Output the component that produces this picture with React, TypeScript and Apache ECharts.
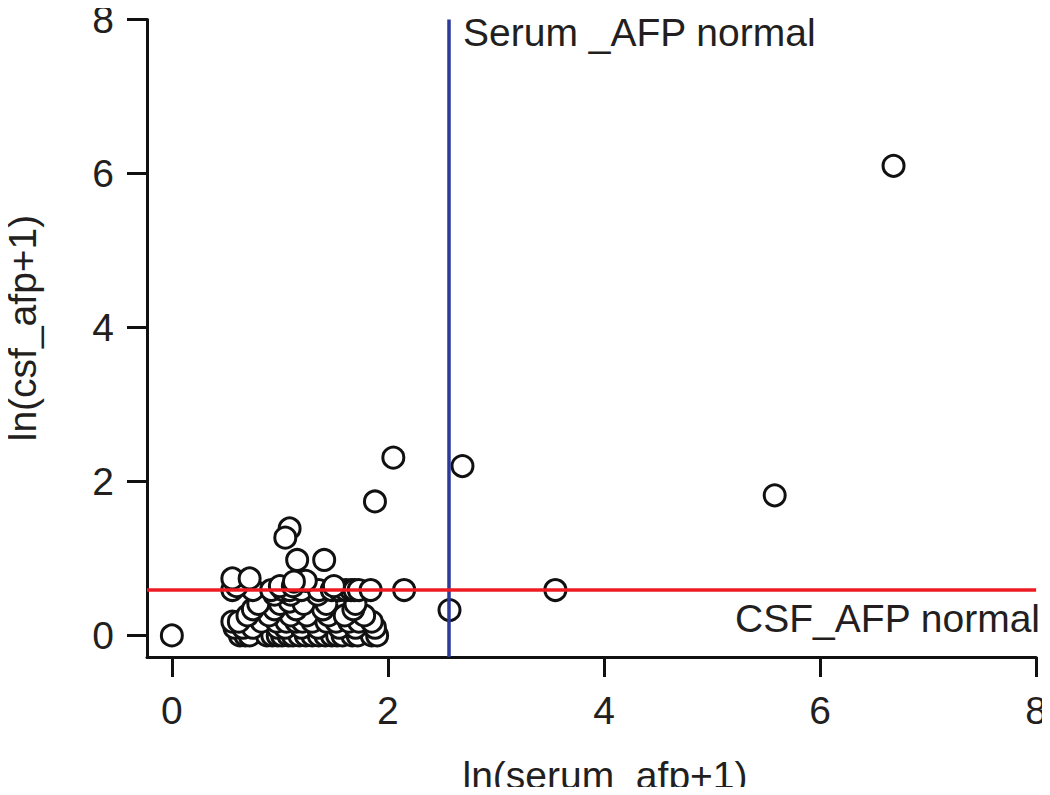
import React, { useEffect, useRef } from "react";
import * as echarts from "echarts";

// ln(serum_afp+1) values
const serumLn: number[] = [
  0, 6.68, 5.58, 2.69, 2.05, 1.88, 2.15, 3.55, 2.57, 1.09, 1.05, 1.16, 1.41,
  // y = 0
  0.63, 0.68, 0.72, 0.88, 0.93, 0.98, 1.02, 1.08, 1.12, 1.18, 1.24, 1.3, 1.36, 1.42, 1.48, 1.53, 1.58, 1.67, 1.72, 1.85, 1.9,
  // y ~ 0.1
  0.58, 0.66, 0.75, 0.98, 1.05, 1.2, 1.35, 1.55, 1.7, 1.88,
  // y ~ 0.18
  0.56, 0.62, 0.83, 0.97, 1.06, 1.15, 1.21, 1.3, 1.43, 1.52, 1.64, 1.73, 1.85,
  // y ~ 0.26
  0.7, 0.9, 1.1, 1.25, 1.45, 1.6, 1.78,
  // y ~ 0.34
  0.75, 0.95, 1.15, 1.4, 1.68,
  // y ~ 0.41
  0.8, 1.0, 1.09, 1.22, 1.43, 1.7,
  // y ~ 0.53
  0.95, 1.1, 1.35,
  // y ~ 0.59
  0.56, 0.75, 0.92, 1.03, 1.09, 1.2, 1.36, 1.48, 1.55, 1.61, 1.66, 1.69, 1.73, 1.84,
  // y ~ 0.64
  0.6, 1.0, 1.12, 1.5,
  // y ~ 0.7-0.74
  0.56, 0.72, 1.24, 1.13,
];

// ln(csf_afp+1) values
const csfLn: number[] = [
  0, 6.1, 1.82, 2.2, 2.31, 1.74, 0.59, 0.59, 0.33, 1.39, 1.27, 0.98, 0.98,
  0, 0, 0, 0, 0, 0, 0, 0, 0, 0, 0, 0, 0, 0, 0, 0, 0, 0, 0, 0, 0,
  0.1, 0.1, 0.1, 0.1, 0.1, 0.1, 0.1, 0.1, 0.1, 0.1,
  0.18, 0.18, 0.18, 0.18, 0.18, 0.18, 0.18, 0.18, 0.18, 0.18, 0.18, 0.18, 0.18,
  0.26, 0.26, 0.26, 0.26, 0.26, 0.26, 0.26,
  0.34, 0.34, 0.34, 0.34, 0.34,
  0.41, 0.41, 0.44, 0.41, 0.41, 0.41,
  0.53, 0.53, 0.53,
  0.59, 0.59, 0.59, 0.59, 0.59, 0.59, 0.59, 0.59, 0.59, 0.59, 0.59, 0.59, 0.59, 0.59,
  0.64, 0.64, 0.64, 0.64,
  0.74, 0.74, 0.71, 0.7,
];

const tickValues: number[] = [0, 2, 4, 6, 8];
const serumNormal = 2.565;
const csfNormal = 0.59;

const FONT = "Liberation Sans, Arial, Helvetica, sans-serif";
const TEXT = "#231f20";
const FS = 39;

export default function App() {
  const ref = useRef<HTMLDivElement>(null);
  useEffect(() => {
    if (!ref.current) return;
    const chart = echarts.init(ref.current, null, { renderer: "svg" });
    const points = serumLn.map((x, i) => [x, csfLn[i]]);
    chart.setOption({
      animation: false,
      backgroundColor: "#ffffff",
      grid: { left: 147, right: 10, top: 15, bottom: 138, containLabel: false },
      xAxis: {
        type: "value",
        min: -0.23,
        max: 8,
        splitLine: { show: false },
        axisLine: { show: true, onZero: false, lineStyle: { color: "#111", width: 3 } },
        axisTick: { show: true, length: 20, customValues: tickValues, lineStyle: { color: "#111", width: 3 } },
        axisLabel: { customValues: tickValues, fontSize: FS, lineHeight: 30, color: TEXT, fontFamily: FONT, margin: 38 },
      },
      yAxis: {
        type: "value",
        min: -0.28,
        max: 8,
        splitLine: { show: false },
        axisLine: { show: true, onZero: false, lineStyle: { color: "#111", width: 3 } },
        axisTick: { show: true, length: 20, customValues: tickValues, lineStyle: { color: "#111", width: 3 } },
        axisLabel: { customValues: tickValues, fontSize: FS, lineHeight: 28, color: TEXT, fontFamily: FONT, margin: 33 },
      },
      graphic: [
        {
          type: "text",
          x: 605,
          y: 775,
          style: {
            text: "ln(serum_afp+1)",
            fontSize: FS,
            lineHeight: 36,
            fill: TEXT,
            fontFamily: FONT,
            textAlign: "center",
            textVerticalAlign: "middle",
          },
        },
        {
          type: "text",
          x: 22,
          y: 328,
          rotation: Math.PI / 2,
          style: {
            text: "ln(csf_afp+1)",
            fontSize: FS,
            fill: TEXT,
            fontFamily: FONT,
            textAlign: "center",
            textVerticalAlign: "middle",
          },
        },
        {
          type: "text",
          x: 463,
          y: 32,
          style: {
            text: "Serum _AFP normal",
            fontSize: FS,
            fill: TEXT,
            fontFamily: FONT,
            textAlign: "left",
            textVerticalAlign: "middle",
          },
          z: 20,
        },
        {
          type: "text",
          x: 1040,
          y: 618,
          style: {
            text: "CSF_AFP normal",
            fontSize: FS,
            fill: TEXT,
            fontFamily: FONT,
            textAlign: "right",
            textVerticalAlign: "middle",
          },
          z: 20,
        },
      ],
      series: [
        {
          type: "scatter",
          data: points,
          symbol: "circle",
          symbolSize: 21,
          itemStyle: { color: "#ffffff", borderColor: "#111", borderWidth: 3, opacity: 1 },
          z: 2,
        },
        {
          type: "scatter",
          data: [],
          z: 10,
          markLine: {
            silent: true,
            symbol: ["none", "none"],
            label: { show: false },
            animation: false,
            data: [
              { xAxis: serumNormal, lineStyle: { color: "#2b3a9b", width: 3.5, type: "solid" } },
              { yAxis: csfNormal, lineStyle: { color: "#ed1c24", width: 3.5, type: "solid" } },
            ],
          },
        },
      ],
    });
    return () => chart.dispose();
  }, []);
  return <div ref={ref} style={{ width: 1050, height: 795, margin: -8 }} />;
}
